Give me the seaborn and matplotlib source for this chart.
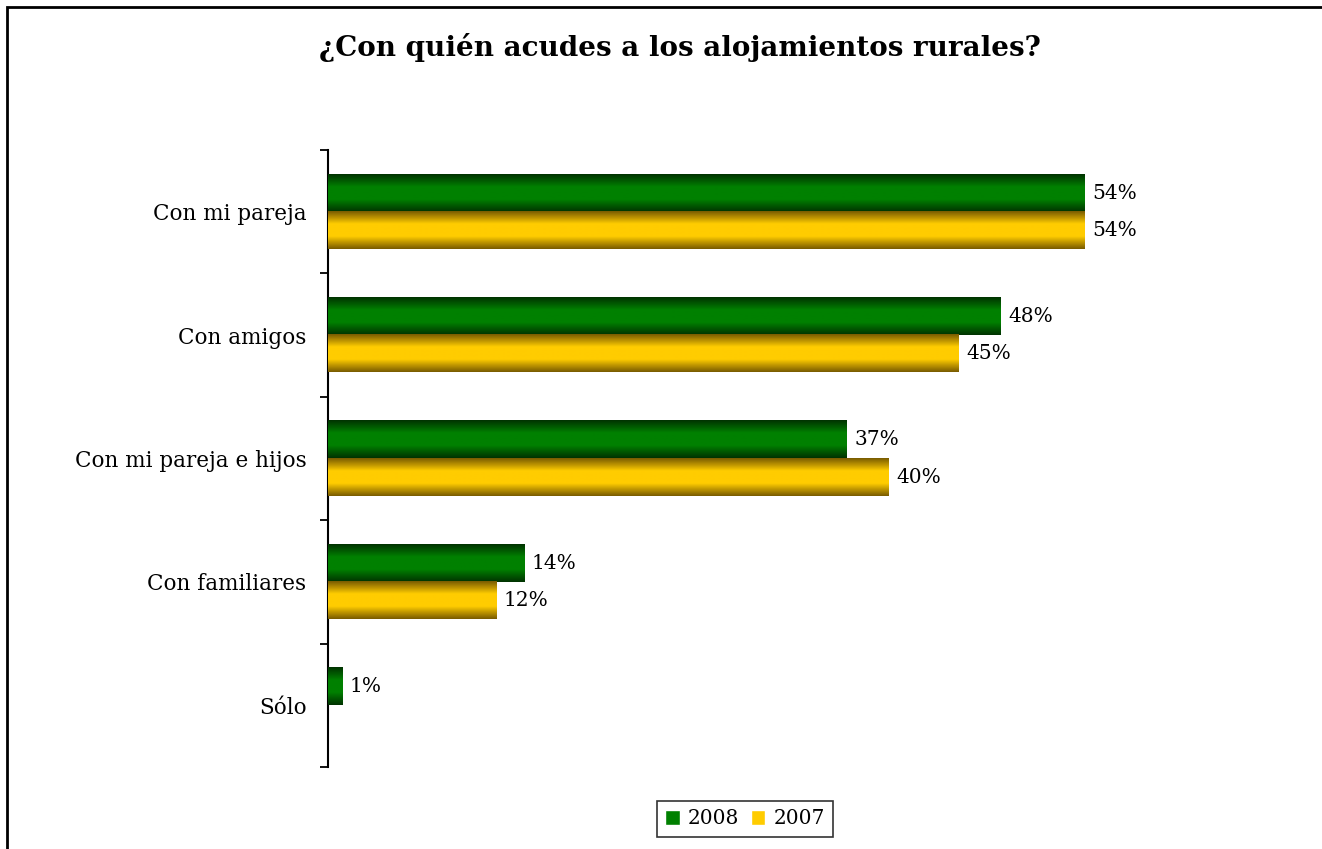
import numpy as np
import pandas as pd
import matplotlib
matplotlib.use("Agg")
import matplotlib.pyplot as plt
from matplotlib.colors import LinearSegmentedColormap
from matplotlib.patches import Rectangle
import seaborn as sns

categories = ["Con mi pareja", "Con amigos", "Con mi pareja e hijos", "Con familiares", "Sólo"]
years = ["2008", "2007"]
values_2008 = [54, 48, 37, 14, 1]
values_2007 = [54, 45, 40, 12, np.nan]

title = "¿Con quién acudes a los alojamientos rurales?"

# colores: centro claro, bordes oscuros (efecto cilindro de Excel)
green_mid, green_edge = "#008000", "#003300"
gold_mid, gold_edge = "#FFCC00", "#7A5C00"

df = pd.DataFrame({
    "categoria": categories * 2,
    "año": [years[0]] * len(categories) + [years[1]] * len(categories),
    "valor": values_2008 + values_2007,
})

sns.set_style("white")
plt.rcParams["font.family"] = ["DejaVu Serif"]
plt.rcParams["text.color"] = "black"
plt.rcParams["ytick.color"] = "black"

W, H = 1322, 849
fig = plt.figure(figsize=(W / 100, H / 100), dpi=100)
ax = fig.add_axes([328 / W, 1 - 767 / H, (1250 - 328) / W, (767 - 150) / H])

sns.barplot(data=df, x="valor", y="categoria", hue="año", hue_order=years,
            order=categories, orient="h", width=0.6, palette=[green_mid, gold_mid],
            ax=ax, legend=True, saturation=1)

xmax = 54 * (1250 - 328) / (1085 - 328)

# relleno degradado sobre cada barra + etiqueta de valor
cmap_g = LinearSegmentedColormap.from_list("g", [green_edge, green_mid, green_mid, green_edge])
cmap_y = LinearSegmentedColormap.from_list("y", [gold_edge, gold_mid, gold_mid, gold_edge])
grad = np.linspace(0, 1, 64).reshape(-1, 1)
for container, cmap in zip(ax.containers, [cmap_g, cmap_y]):
    for patch in container.patches:
        w = patch.get_width()
        if np.isnan(w):
            continue
        x0, y0, h = patch.get_x(), patch.get_y(), patch.get_height()
        ax.imshow(grad, cmap=cmap, aspect="auto", extent=(x0, x0 + w, y0 + h, y0),
                  zorder=3, interpolation="bilinear")
        ax.annotate(f"{w:.0f}%", (x0 + w, y0 + h / 2), xytext=(5.5, 0),
                    textcoords="offset points", ha="left", va="center",
                    fontsize=14.5, color="black")

ax.set_xlim(0, xmax)
ax.set_ylim(len(categories) - 0.5, -0.5)

# ticks: marcas en los limites, etiquetas centradas
ax.set_yticks(np.arange(-0.5, len(categories), 1.0))
ax.set_yticklabels([])
ax.set_yticks(np.arange(len(categories)), minor=True)
ax.set_yticklabels(categories, minor=True, fontsize=15.5)
ax.tick_params(axis="y", which="major", left=True, length=6, width=1.3, color="black", direction="out")
ax.tick_params(axis="y", which="minor", left=False, length=0, pad=15.5)
ax.set_xticks([])
ax.set_xlabel("")
ax.set_ylabel("")
for s in ["top", "right", "bottom"]:
    ax.spines[s].set_visible(False)
ax.spines["left"].set_color("black")
ax.spines["left"].set_linewidth(1.5)

# leyenda
handles, labs = ax.get_legend_handles_labels()
ax.get_legend().remove()
leg = fig.legend(handles, labs, loc="center", bbox_to_anchor=(745 / W, 1 - 819 / H), ncol=2,
                 fontsize=14.5, frameon=True, fancybox=False, handlelength=0.7, handleheight=0.7,
                 handletextpad=0.4, columnspacing=0.6, borderpad=0.4)
leg.get_frame().set_edgecolor("black")
leg.get_frame().set_linewidth(1.2)

fig.text(680 / W, 1 - 47 / H, title, ha="center", va="center", fontsize=20, fontweight="bold")

# borde del area del grafico
fig.patches.append(Rectangle((7 / W, -0.1), 1.2, 1.1 - 7 / H, transform=fig.transFigure,
                             fill=False, edgecolor="black", linewidth=2))

fig.savefig("out.png", dpi=100)
